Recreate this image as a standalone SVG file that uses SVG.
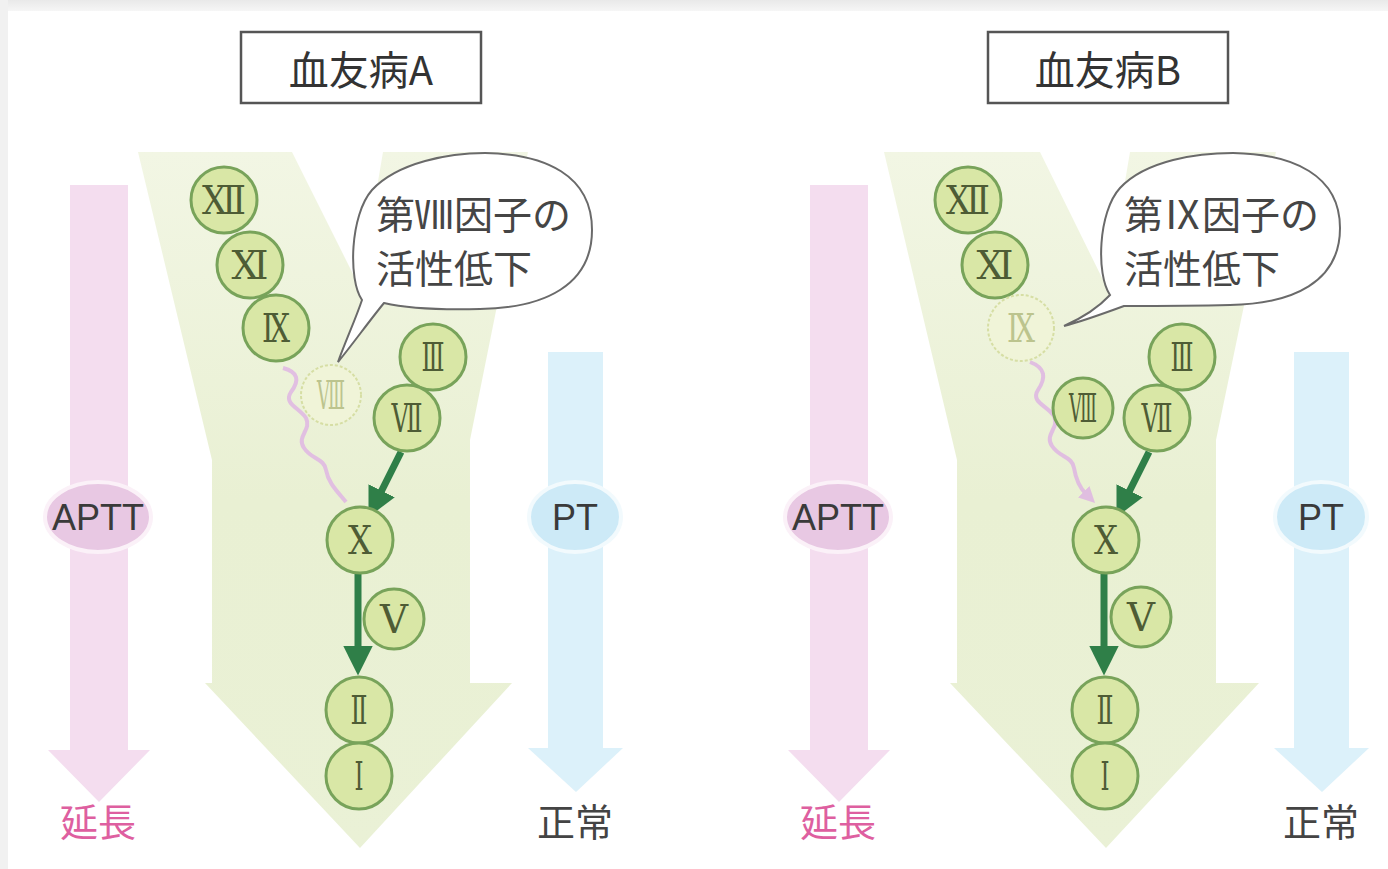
<svg xmlns="http://www.w3.org/2000/svg" width="1388" height="869" viewBox="0 0 1388 869">
  <defs>
    <linearGradient id="yGrad" x1="0" y1="0" x2="0" y2="1">
      <stop offset="0" stop-color="#f2f6e4"/>
      <stop offset="0.5" stop-color="#e9f0d3"/>
      <stop offset="1" stop-color="#eaf1d6"/>
    </linearGradient>
    <linearGradient id="topBand" x1="0" y1="0" x2="0" y2="1">
      <stop offset="0" stop-color="#e9e9e9"/>
      <stop offset="1" stop-color="#f6f6f6"/>
    </linearGradient>
    <marker id="greenHead" viewBox="0 0 10 10" refX="2" refY="5" markerWidth="4.2" markerHeight="4.2" orient="auto" markerUnits="strokeWidth">
      <path d="M0,0 L10,5 L0,10 Z" fill="#2f7f48"/>
    </marker>
    <marker id="pinkHead" viewBox="0 0 10 10" refX="2" refY="5" markerWidth="4" markerHeight="4" orient="auto" markerUnits="strokeWidth">
      <path d="M0,0 L10,5 L0,10 Z" fill="#dfb6e3"/>
    </marker>
    <style>
      .yflow { fill: url(#yGrad); }
      .aptt { fill: #f4ddef; }
      .apttOval { fill: #e8c8e3; stroke: #fbf1f8; stroke-width: 4; }
      .pt { fill: #dcf1fa; }
      .ptOval { fill: #cdeaf7; stroke: #f2fafd; stroke-width: 4; }
      .title { fill: #ffffff; stroke: #555555; stroke-width: 2.5; }
      .titleText { font-family: "Noto Sans CJK JP", "Noto Sans", sans-serif; font-size: 40px; fill: #333333; text-anchor: middle; }
      .lab { font-family: "Liberation Sans", "Noto Sans", sans-serif; font-size: 36px; fill: #3a3a3a; text-anchor: middle; }
      .jp { font-family: "Noto Sans CJK JP", sans-serif; font-size: 38px; text-anchor: middle; }
      .bubble { fill: #ffffff; stroke: #6a6a6a; stroke-width: 2; }
      .bubbleText { font-family: "Noto Sans CJK JP", sans-serif; font-size: 39px; fill: #454545; }
      .fac circle { fill: #d9e7a6; stroke: #78a35a; stroke-width: 3; }
      .fac text { font-family: "Liberation Serif", "DejaVu Serif", "Noto Sans CJK JP", serif; font-size: 40px; fill: #4e5c35; text-anchor: middle; }
      .faded circle { fill: #f0f4d8; stroke: #d6dea4; stroke-width: 2; stroke-dasharray: 3 2; }
      .faded text { fill: #bcc48e; }
      .flow { fill: none; stroke: #2f7f48; stroke-width: 7; }
      .wave { fill: none; stroke: #dfb6e3; stroke-width: 4; stroke-linejoin: round; opacity: 0.85; }
    </style>
  </defs>

  <!-- page -->
  <rect x="0" y="0" width="1388" height="869" fill="#ffffff"/>
  <rect x="0" y="0" width="1388" height="11" fill="url(#topBand)"/>
  <rect x="0" y="0" width="8" height="869" fill="#f1f1f1"/>

  <!-- ============ Hemophilia A ============ -->
  <g id="panelA">
    <g id="titleA">
      <rect class="title" x="241" y="32" width="240" height="71"/>
      <text class="titleText" x="361" y="85">血友病A</text>
    </g>

    <g id="cascadeA">
      <path class="yflow" d="M138,152 L292,152 L360,288 L383,152 L528,152 L470,440 L470,683 L512,683 L360,848 L205,683 L212,683 L212,460 Z"/>
    </g>

    <g id="apttA">
      <path class="aptt" d="M70,185 L128,185 L128,750 L150,750 L99,802 L48,750 L70,750 Z"/>
      <ellipse class="apttOval" cx="98" cy="517" rx="53" ry="35"/>
      <text class="lab" x="98" y="530">APTT</text>
      <text class="jp" x="98" y="836" fill="#de5fa0">延長</text>
    </g>

    <g id="ptA">
      <path class="pt" d="M548,352 L603,352 L603,748 L623,748 L576,792 L528,748 L548,748 Z"/>
      <ellipse class="ptOval" cx="575" cy="517" rx="46" ry="35"/>
      <text class="lab" x="575" y="530">PT</text>
      <text class="jp" x="575" y="836" fill="#444444">正常</text>
    </g>

    <g id="connectorsA">
      <path class="wave" d="M283,368 C298,372 300,380 291,392 C283,404 300,408 306,418 C312,430 296,436 304,448 C312,460 324,458 326,470 C328,482 336,490 346,502"/>
      <path class="flow" d="M401,452 L379,496" marker-end="url(#greenHead)"/>
      <path class="flow" d="M358,574 L358,652" marker-end="url(#greenHead)"/>
    </g>

    <g id="bubbleA">
      <path class="bubble" d="M362,300 C348,280 350,215 372,190 C398,162 450,153 485,153 C545,154 592,175 592,230 C592,285 545,308 480,309 C440,310 405,308 384,303 C370,320 352,345 338,362 C346,340 356,318 362,300 Z"/>
      <text class="bubbleText" x="376" y="229">第Ⅷ因子の</text>
      <text class="bubbleText" x="376" y="283">活性低下</text>
    </g>

    <g id="fA12" class="fac"><circle cx="224" cy="200" r="33"/><text x="224" y="214" textLength="44" lengthAdjust="spacingAndGlyphs">Ⅻ</text></g>
    <g id="fA11" class="fac"><circle cx="250" cy="265" r="33"/><text x="250" y="279" textLength="37" lengthAdjust="spacingAndGlyphs">Ⅺ</text></g>
    <g id="fA9" class="fac"><circle cx="276" cy="328" r="33"/><text x="276" y="342" textLength="28" lengthAdjust="spacingAndGlyphs">Ⅸ</text></g>
    <g id="fA8" class="fac faded"><circle cx="331" cy="395" r="30"/><text x="331" y="409" textLength="28" lengthAdjust="spacingAndGlyphs">Ⅷ</text></g>
    <g id="fA3" class="fac"><circle cx="433" cy="357" r="33"/><text x="433" y="371" textLength="23" lengthAdjust="spacingAndGlyphs">Ⅲ</text></g>
    <g id="fA7" class="fac"><circle cx="407" cy="418" r="33"/><text x="407" y="432" textLength="31" lengthAdjust="spacingAndGlyphs">Ⅶ</text></g>
    <g id="fA10" class="fac"><circle cx="360" cy="540" r="33"/><text x="360" y="554" textLength="24" lengthAdjust="spacingAndGlyphs">Ⅹ</text></g>
    <g id="fA5" class="fac"><circle cx="394" cy="619" r="30"/><text x="394" y="633" textLength="28" lengthAdjust="spacingAndGlyphs">Ⅴ</text></g>
    <g id="fA2" class="fac"><circle cx="359" cy="710" r="33"/><text x="359" y="724" textLength="17" lengthAdjust="spacingAndGlyphs">Ⅱ</text></g>
    <g id="fA1" class="fac"><circle cx="359" cy="776" r="33"/><text x="359" y="790" textLength="9" lengthAdjust="spacingAndGlyphs">Ⅰ</text></g>
  </g>

  <!-- ============ Hemophilia B ============ -->
  <g id="panelB">
    <g id="titleB">
      <rect class="title" x="988" y="32" width="240" height="71"/>
      <text class="titleText" x="1108" y="85">血友病B</text>
    </g>

    <g id="cascadeB">
      <path class="yflow" d="M884,152 L1040,152 L1107,288 L1130,152 L1276,152 L1216,440 L1216,683 L1259,683 L1106,848 L950,683 L957,683 L957,460 Z"/>
    </g>

    <g id="apttB">
      <path class="aptt" d="M810,185 L868,185 L868,750 L890,750 L839,802 L788,750 L810,750 Z"/>
      <ellipse class="apttOval" cx="838" cy="517" rx="53" ry="35"/>
      <text class="lab" x="838" y="530">APTT</text>
      <text class="jp" x="838" y="836" fill="#de5fa0">延長</text>
    </g>

    <g id="ptB">
      <path class="pt" d="M1294,352 L1349,352 L1349,748 L1369,748 L1322,792 L1274,748 L1294,748 Z"/>
      <ellipse class="ptOval" cx="1321" cy="517" rx="46" ry="35"/>
      <text class="lab" x="1321" y="530">PT</text>
      <text class="jp" x="1321" y="836" fill="#444444">正常</text>
    </g>

    <g id="connectorsB">
      <path class="wave" d="M1030,362 C1046,368 1046,378 1038,390 C1030,402 1048,406 1054,416 C1060,428 1044,434 1052,446 C1060,458 1072,456 1074,468 C1076,480 1080,488 1086,494" marker-end="url(#pinkHead)"/>
      <path class="flow" d="M1149,452 L1127,496" marker-end="url(#greenHead)"/>
      <path class="flow" d="M1104,574 L1104,652" marker-end="url(#greenHead)"/>
    </g>

    <g id="bubbleB">
      <path class="bubble" d="M1110,295 C1096,275 1098,212 1120,188 C1146,160 1198,153 1233,153 C1293,154 1340,175 1340,228 C1340,282 1293,304 1230,305 C1190,306 1150,306 1124,306 C1105,313 1080,322 1064,326 C1082,318 1098,308 1110,295 Z"/>
      <text class="bubbleText" x="1124" y="229">第Ⅸ因子の</text>
      <text class="bubbleText" x="1124" y="283">活性低下</text>
    </g>

    <g id="fB12" class="fac"><circle cx="968" cy="200" r="33"/><text x="968" y="214" textLength="44" lengthAdjust="spacingAndGlyphs">Ⅻ</text></g>
    <g id="fB11" class="fac"><circle cx="995" cy="265" r="33"/><text x="995" y="279" textLength="37" lengthAdjust="spacingAndGlyphs">Ⅺ</text></g>
    <g id="fB9" class="fac faded"><circle cx="1021" cy="328" r="33"/><text x="1021" y="342" textLength="28" lengthAdjust="spacingAndGlyphs">Ⅸ</text></g>
    <g id="fB8" class="fac"><circle cx="1083" cy="408" r="30"/><text x="1083" y="422" textLength="28" lengthAdjust="spacingAndGlyphs">Ⅷ</text></g>
    <g id="fB3" class="fac"><circle cx="1182" cy="357" r="33"/><text x="1182" y="371" textLength="23" lengthAdjust="spacingAndGlyphs">Ⅲ</text></g>
    <g id="fB7" class="fac"><circle cx="1157" cy="418" r="33"/><text x="1157" y="432" textLength="31" lengthAdjust="spacingAndGlyphs">Ⅶ</text></g>
    <g id="fB10" class="fac"><circle cx="1106" cy="540" r="33"/><text x="1106" y="554" textLength="24" lengthAdjust="spacingAndGlyphs">Ⅹ</text></g>
    <g id="fB5" class="fac"><circle cx="1141" cy="617" r="30"/><text x="1141" y="631" textLength="28" lengthAdjust="spacingAndGlyphs">Ⅴ</text></g>
    <g id="fB2" class="fac"><circle cx="1105" cy="710" r="33"/><text x="1105" y="724" textLength="17" lengthAdjust="spacingAndGlyphs">Ⅱ</text></g>
    <g id="fB1" class="fac"><circle cx="1105" cy="776" r="33"/><text x="1105" y="790" textLength="9" lengthAdjust="spacingAndGlyphs">Ⅰ</text></g>
  </g>
</svg>
